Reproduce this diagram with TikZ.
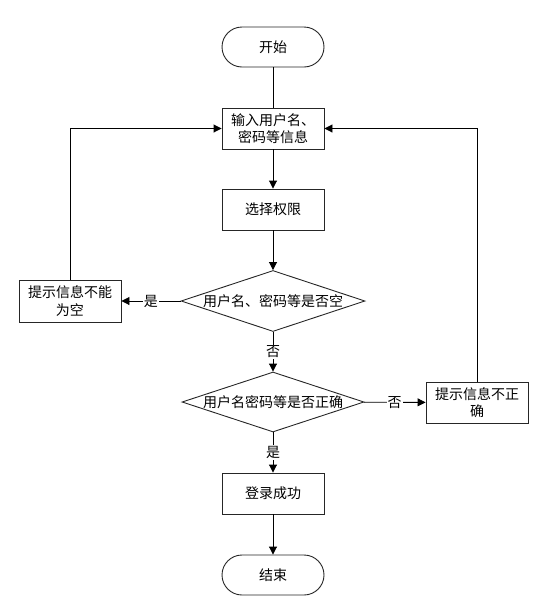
\documentclass[tikz,border=0pt]{standalone}
\usepackage{fontspec}
\newfontfamily\cjk{Noto Sans CJK SC}
\usetikzlibrary{shapes.geometric,arrows.meta}
\tikzset{
  base/.style={draw=black!85, line width=0.9pt, fill=white, font=\cjk\fontsize{14}{17.5}\selectfont, align=center, inner sep=0pt},
  procbox/.style={base, rectangle, minimum width=102pt, minimum height=41pt},
  termbox/.style={base, rectangle, rounded corners=20pt, minimum width=102pt, minimum height=40pt},
  decbox/.style={base, diamond, minimum width=184pt, minimum height=61pt},
  conn/.style={draw=black, line width=0.9pt},
  arr/.style={conn, -{Triangle[length=8pt, width=8pt]}},
  lab/.style={fill=white, font=\cjk\fontsize{14}{17}\selectfont, inner sep=1pt},
}
\begin{document}
\begin{tikzpicture}[x=1pt, y=-1pt]
\useasboundingbox (0,0) rectangle (547,603);
\node[termbox] (start) at (273,47) {开始};
\node[procbox] (input) at (273,128.5) {输入用户名、\\密码等信息};
\node[procbox] (select) at (273,209.5) {选择权限};
\node[decbox] (d1) at (273,301) {\makebox[0pt]{用户名、密码等是否空}};
\node[procbox, minimum height=42pt] (empty) at (70,301) {提示信息不能\\为空};
\node[decbox, minimum width=182pt, minimum height=60pt] (d2) at (273,402) {\makebox[0pt]{用户名密码等是否正确}};
\node[procbox] (wrong) at (477,402.5) {提示信息不正\\确};
\node[procbox] (ok) at (273,493.5) {登录成功};
\node[termbox] (end) at (273,575) {结束};

\draw[conn] (start) -- (input);
\draw[arr] (input) -- (select);
\draw[arr] (select) -- (d1);
\draw[arr] (d1) -- node[lab] {是} (empty);
\draw[arr] (d1) -- node[lab] {否} (d2);
\draw[arr] (d2) -- node[lab] {否} (wrong);
\draw[arr] (d2) -- node[lab] {是} (ok);
\draw[arr] (ok) -- (end);
\draw[arr] (empty.north) |- (input.west);
\draw[arr] (wrong.north) |- (input.east);
\end{tikzpicture}
\end{document}
